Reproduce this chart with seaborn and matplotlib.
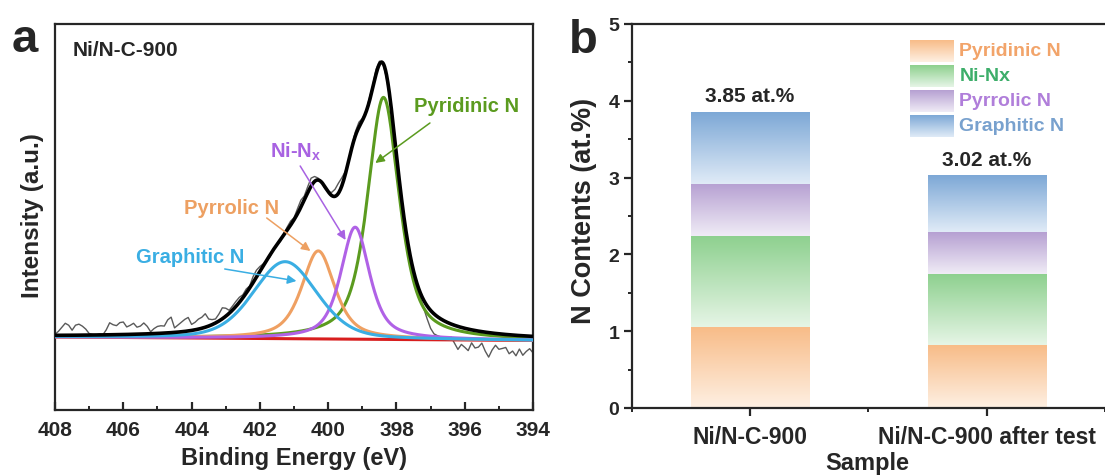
import numpy as np
import pandas as pd
import matplotlib
matplotlib.use("Agg")
import matplotlib.pyplot as plt
import seaborn as sns
from matplotlib.colors import to_rgb
from matplotlib.ticker import MultipleLocator

# ---------------- Panel a: N 1s XPS fit ----------------
peak_names = ["Pyridinic N", "Ni-Nx", "Pyrrolic N", "Graphitic N"]
peak_centers = [398.38, 399.21, 400.29, 401.26]   # eV
peak_heights = [2.42, 1.12, 0.88, 0.77]           # a.u.
peak_fwhm = [1.10, 1.00, 1.15, 2.20]              # eV
peak_eta = [0.65, 0.65, 0.65, 0.30]               # Lorentzian fraction
peak_colors = ["#5B9B1F", "#B062E6", "#EFA062", "#3AAEE3"]
background_ends = [0.0, -0.035]                   # linear background at 408 / 394 eV

# measured spectrum, stored as deviation from the fitted envelope (0.1 eV steps, 408 -> 394 eV)
raw_residual = [
    0.01, 0.04, 0.08, 0.12, 0.10, 0.05, 0.10, 0.11, 0.09, 0.06,
    0.015, 0.005, 0.0, 0.01, 0.0, 0.05, 0.12, 0.10, 0.09, 0.12,
    0.125, 0.075, 0.09, 0.11, 0.07, 0.08, 0.11, 0.075, 0.02, 0.05,
    0.07, 0.075, 0.07, 0.13, 0.155, 0.045, 0.07, 0.095, 0.12, 0.135,
    0.06, 0.075, 0.10, 0.11, 0.135, 0.07, 0.05, 0.04, 0.07, 0.11,
    0.08, 0.03, 0.04, 0.05, 0.05, 0.03,
    0.04, 0.02, 0.06, 0.07, 0.05, 0.02, 0.0, -0.02, 0.01, 0.0,
    -0.02, 0.01, 0.03, 0.04, 0.02, 0.05, 0.07, 0.04, 0.06, 0.08,
    0.05, 0.02, 0.0, -0.02, 0.0, 0.03, 0.07, 0.10, 0.08, 0.03,
    0.0, 0.02, 0.04, 0.05, 0.02, 0.0, 0.03, 0.02, 0.05, 0.03,
    0.0, -0.03, -0.02, 0.0, -0.03, -0.02, 0.0, -0.03, -0.02, -0.04,
    -0.06,
    -0.05, -0.08, -0.13, -0.18, -0.20, -0.19, -0.18, -0.19, -0.16, -0.13,
    -0.18, -0.23, -0.17, -0.19, -0.215, -0.13, -0.175, -0.16, -0.115, -0.19,
    -0.245, -0.17, -0.118, -0.155, -0.143, -0.13, -0.19, -0.16, -0.205, -0.135,
    -0.195, -0.155, -0.125, -0.165,
]

# ---------------- Panel b: N species contents ----------------
samples = ["Ni/N-C-900", "Ni/N-C-900 after test"]
pyridinic_n = [1.05, 0.82]
ni_nx = [1.19, 0.93]
pyrrolic_n = [0.68, 0.54]
graphitic_n = [0.93, 0.73]
species_labels = ["Pyridinic N", "Ni-Nx", "Pyrrolic N", "Graphitic N"]
grad_top = ["#F8BC88", "#8DD08E", "#B6A0D2", "#7DA8D6"]
grad_bottom = ["#FEF0E3", "#E6F5E6", "#F0ECF6", "#E0EBF7"]
legend_text_colors = ["#F2A46A", "#3DAE6A", "#B07EDA", "#78A1CE"]

# ---------------- style ----------------
sns.set_theme(style="ticks")
plt.rcParams["font.family"] = ["Liberation Sans", "DejaVu Sans"]
plt.rcParams.update({
    "font.weight": "bold",
    "axes.labelweight": "bold",
    "mathtext.fontset": "custom",
    "mathtext.rm": "Liberation Sans:bold",
    "mathtext.it": "Liberation Sans:bold",
    "mathtext.bf": "Liberation Sans:bold",
    "axes.linewidth": 1.6,
})


def pseudo_voigt(x, c, h, w, eta):
    d = (x - c) / w
    gauss = np.exp(-4 * np.log(2) * d ** 2)
    lorentz = 1.0 / (1.0 + 4 * d ** 2)
    return h * (eta * lorentz + (1 - eta) * gauss)


def background(x):
    return background_ends[0] + (background_ends[1] - background_ends[0]) * (408 - x) / 14.0


def envelope(x):
    total = background(x)
    for c, h, w, e in zip(peak_centers, peak_heights, peak_fwhm, peak_eta):
        total = total + pseudo_voigt(x, c, h, w, e)
    return total


fig = plt.figure(figsize=(11.05, 4.77), dpi=100)
ax1 = fig.add_axes([0.0498, 0.1384, 0.4326, 0.8092])
ax2 = fig.add_axes([0.5717, 0.1426, 0.4283, 0.8050])

energy = np.linspace(394, 408, 1401)
raw_energy = np.round(408.0 - 0.1 * np.arange(len(raw_residual)), 1)
raw_counts = envelope(raw_energy) + np.array(raw_residual)

sns.lineplot(x=raw_energy, y=raw_counts, ax=ax1, color="#5a5a5a", lw=1.0, zorder=2, estimator=None)
sns.lineplot(x=energy, y=background(energy), ax=ax1, color="#D81E1E", lw=2.2, zorder=3, estimator=None)
for idx in [0, 2, 1, 3]:
    comp = background(energy) + pseudo_voigt(energy, peak_centers[idx], peak_heights[idx],
                                               peak_fwhm[idx], peak_eta[idx])
    sns.lineplot(x=energy, y=comp, ax=ax1, color=peak_colors[idx], lw=2.2, zorder=4, estimator=None)
sns.lineplot(x=energy, y=envelope(energy), ax=ax1, color="black", lw=2.6, zorder=5, estimator=None)

ax1.set_xlim(408, 394)
ax1.set_ylim(-0.73, 3.13)
ax1.xaxis.set_major_locator(MultipleLocator(2))
ax1.xaxis.set_minor_locator(MultipleLocator(1))
ax1.set_yticks([])
ax1.tick_params(axis="x", which="major", direction="in", length=6, width=1.6,
                labelsize=15, pad=7)
ax1.tick_params(axis="x", which="minor", direction="in", length=3, width=1.4)
for s in ax1.spines.values():
    s.set_visible(True)
    s.set_linewidth(1.6)
ax1.set_xlabel("Binding Energy (eV)", fontsize=17, fontweight="bold")
ax1.set_ylabel("Intensity (a.u.)", fontsize=17.5, fontweight="bold")
ax1.xaxis.set_label_coords(0.5, -0.093)
ax1.yaxis.set_label_coords(-0.023, 0.505)

ax1.text(0.036, 0.933, "Ni/N-C-900", transform=ax1.transAxes, fontsize=15,
         fontweight="bold", ha="left", va="center")

# peak labels with arrows: (label, text position, arrow tail, arrow head)
peak_label_text = ["Pyridinic N", r"Ni-N$_\mathrm{x}$", "Pyrrolic N", "Graphitic N"]
label_pos = [(397.48, 2.31), (401.70, 1.86), (404.22, 1.29), (405.63, 0.80)]
arrow_tail = [(397.02, 2.14), (400.82, 1.71), (401.80, 1.19), (403.03, 0.68)]
arrow_head = [(398.62, 1.74), (399.49, 0.97), (400.52, 0.86), (400.93, 0.56)]
label_colors = ["#5B9B1F", "#A862E2", "#EDA062", "#3AAEE3"]
for t, p, tail, head, c in zip(peak_label_text, label_pos, arrow_tail, arrow_head, label_colors):
    ax1.text(p[0], p[1], t, color=c, fontsize=14.5, fontweight="bold", ha="left", va="center", zorder=7)
    ax1.annotate("", xy=head, xytext=tail,
                 arrowprops=dict(arrowstyle="-|>", color=c, lw=1.1, mutation_scale=13,
                                 shrinkA=0, shrinkB=0), zorder=7)

# ---------------- Panel b ----------------
layers = [pyridinic_n, ni_nx, pyrrolic_n, graphitic_n]
cumulative = np.cumsum(np.array(layers), axis=0)

# outlines of each stacked level, tallest first
for lvl in range(len(layers) - 1, -1, -1):
    df = pd.DataFrame({"sample": samples, "value": cumulative[lvl]})
    sns.barplot(data=df, x="sample", y="value", ax=ax2, width=0.5, color="white",
                alpha=0.0, zorder=1, errorbar=None)
patches = ax2.patches
n = len(samples)
# patches are grouped per level in drawing order (graphitic ... pyridinic)
level_patches = {}
for k, lvl in enumerate(range(len(layers) - 1, -1, -1)):
    level_patches[lvl] = patches[k * n:(k + 1) * n]


def gradient(top, bottom, steps=256):
    t = np.linspace(0, 1, steps)[:, None]
    ct, cb = np.array(to_rgb(top)), np.array(to_rgb(bottom))
    img = cb[None, :] * (1 - t) + ct[None, :] * t
    return img[:, None, :]


for lvl in range(len(layers)):
    for j, p in enumerate(level_patches[lvl]):
        x0 = p.get_x()
        x1 = x0 + p.get_width()
        y1 = p.get_height()
        y0 = level_patches[lvl - 1][j].get_height() if lvl > 0 else 0.0
        ax2.imshow(gradient(grad_top[lvl], grad_bottom[lvl]), extent=[x0, x1, y0, y1],
                   origin="lower", aspect="auto", interpolation="bilinear", zorder=2)

totals = cumulative[-1]
for j, tot in enumerate(totals):
    ax2.text(j, tot + 0.22, f"{tot:.2f} at.%", ha="center", va="center",
             fontsize=15, fontweight="bold", zorder=5)

# legend with gradient swatches
leg_y = [4.65, 4.325, 4.0, 3.675]
for i in range(len(layers)):
    ax2.imshow(gradient(grad_top[i], grad_bottom[i]),
               extent=[0.674, 0.857, leg_y[i] - 0.14, leg_y[i] + 0.14],
               origin="lower", aspect="auto", interpolation="bilinear", zorder=3)
    ax2.text(0.885, leg_y[i], species_labels[i], color=legend_text_colors[i], fontsize=14,
             fontweight="bold", ha="left", va="center", zorder=5)

ax2.set_xlim(-0.5, 1.5)
ax2.set_ylim(0, 5)
ax2.yaxis.set_major_locator(MultipleLocator(1))
ax2.yaxis.set_minor_locator(MultipleLocator(0.5))
ax2.set_xticks([0, 1])
ax2.set_xticklabels(samples)
ax2.xaxis.set_minor_locator(MultipleLocator(0.5))
ax2.tick_params(axis="both", which="major", direction="out", length=6, width=1.6)
ax2.tick_params(axis="both", which="minor", direction="out", length=3, width=1.4)
ax2.tick_params(axis="x", which="major", labelsize=16.5, pad=6)
ax2.tick_params(axis="y", which="major", labelsize=14, pad=3)
for s in ["left", "top", "bottom"]:
    ax2.spines[s].set_visible(True)
    ax2.spines[s].set_linewidth(1.6)
ax2.spines["right"].set_visible(False)
ax2.set_xlabel("Sample", fontsize=17, fontweight="bold")
ax2.set_ylabel("N Contents (at.%)", fontsize=19.5, fontweight="bold")
ax2.xaxis.set_label_coords(0.497, -0.112)
ax2.yaxis.set_label_coords(-0.073, 0.516)
for lab in ax1.get_xticklabels() + ax2.get_xticklabels() + ax2.get_yticklabels():
    lab.set_fontweight("bold")

fig.text(25 / 1105, 0.891, "a", fontsize=34, fontweight="bold", ha="center", va="baseline")
fig.text(583 / 1105, 0.889, "b", fontsize=34, fontweight="bold", ha="center", va="baseline")

fig.savefig("out.png", dpi=100)
